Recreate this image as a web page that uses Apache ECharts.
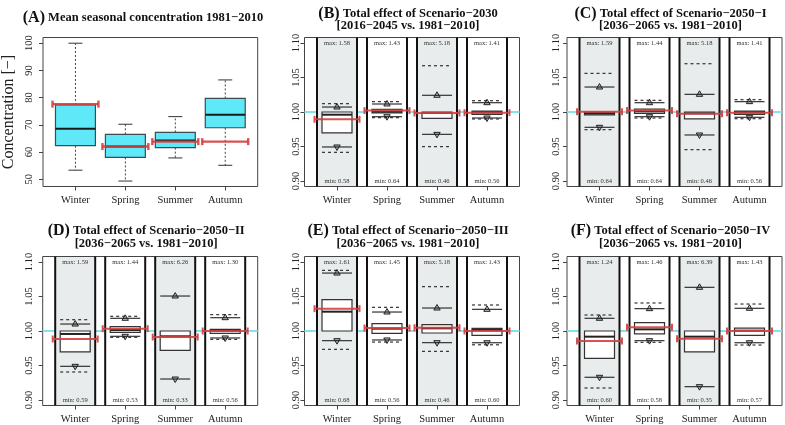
<!DOCTYPE html>
<html><head><meta charset="utf-8">
<script src="https://cdn.jsdelivr.net/npm/echarts@6/dist/echarts.min.js"></script>
<style>html,body{margin:0;padding:0;background:#fff}#c{width:785px;height:425px}</style>
</head><body><div id="c"></div>
<script>
// ---------- data ----------
const seasons = ['Winter', 'Spring', 'Summer', 'Autumn'];
const shaded = [1, 0, 1, 0];
const yTicksA = [50, 60, 70, 80, 90, 100];
const yTicksRatio = [0.90, 0.95, 1.00, 1.05, 1.10];

// Panel A: mean seasonal concentration
const aLow  = [53.3, 49.3, 57.8, 55.1];
const aQ1   = [62.3, 58.0, 61.6, 68.9];
const aMed  = [68.5, 62.0, 64.2, 73.7];
const aQ3   = [77.3, 66.5, 67.2, 79.7];
const aHigh = [100.0, 70.2, 73.0, 86.5];
const aRef  = [77.6, 62.0, 63.8, 63.8];

// Panels B–F: ratios (rows = panel, columns = season)
const panelIds = ['B', 'C', 'D', 'E', 'F'];
const panelTitles = ['Total effect of Scenario−2030', 'Total effect of Scenario−2050−I',
  'Total effect of Scenario−2050−II', 'Total effect of Scenario−2050−III', 'Total effect of Scenario−2050−IV'];
const panelPeriods = ['[2016−2045 vs. 1981−2010]', '[2036−2065 vs. 1981−2010]', '[2036−2065 vs. 1981−2010]',
  '[2036−2065 vs. 1981−2010]', '[2036−2065 vs. 1981−2010]'];
const dashHi = [
  [1.0121, 1.0150, 1.0671, 1.0164],
  [1.0560, 1.0169, 1.0700, 1.0179],
  [1.0164, 1.0213, null,   1.0237],
  [1.0879, 1.0343, 1.0643, 1.0377],
  [1.0232, 1.0406, null,   1.0391]];
const solidHi = [
  [1.0072, 1.0116, 1.0242, 1.0135],
  [1.0362, 1.0135, 1.0256, 1.0150],
  [1.0101, 1.0184, 1.0507, 1.0193],
  [1.0840, 1.0275, 1.0333, 1.0314],
  [1.0184, 1.0324, 1.0633, 1.0329]];
const boxQ3 = [
  [1.0000, 1.0039, 1.0000, 1.0014],
  [1.0000, 1.0043, 1.0000, 1.0014],
  [1.0000, 1.0063, 1.0000, 1.0024],
  [1.0454, 1.0106, 1.0092, 1.0039],
  [1.0000, 1.0121, 1.0000, 1.0043]];
const boxMed = [
  [0.9961, 1.0005, 0.9986, 0.9995],
  [0.9980, 1.0010, 0.9980, 0.9995],
  [0.9957, 1.0015, 0.9923, 1.0005],
  [1.0280, 1.0034, 1.0039, 1.0014],
  [0.9918, 1.0024, 0.9918, 1.0005]];
const boxQ1 = [
  [0.9696, 0.9986, 0.9908, 0.9966],
  [0.9957, 0.9980, 0.9900, 0.9966],
  [0.9696, 0.9980, 0.9720, 0.9966],
  [1.0000, 0.9966, 0.9971, 0.9937],
  [0.9604, 0.9957, 0.9696, 0.9937]];
const solidLo = [
  [0.9493, 0.9932, 0.9676, 0.9913],
  [0.9778, 0.9932, 0.9667, 0.9923],
  [0.9488, 0.9923, 0.9304, 0.9899],
  [0.9860, 0.9870, 0.9831, 0.9830],
  [0.9329, 0.9860, 0.9193, 0.9830]];
const dashLo = [
  [0.9415, 0.9918, 0.9498, 0.9899],
  [0.9744, 0.9913, 0.9454, 0.9903],
  [0.9406, 0.9908, null,   0.9879],
  [0.9734, 0.9840, 0.9705, 0.9800],
  [0.9174, 0.9836, null,   0.9797]];
const refLine = [
  [0.9894, 1.0020, 0.9986, 0.9990],
  [1.0005, 1.0020, 0.9976, 0.9990],
  [0.9884, 1.0034, 0.9913, 1.0000],
  [1.0324, 1.0043, 1.0048, 1.0000],
  [0.9855, 1.0053, 0.9889, 1.0000]];
const maxLabels = [
  ['1.58', '1.43', '5.18', '1.41'],
  ['1.59', '1.44', '5.18', '1.41'],
  ['1.59', '1.44', '6.26', '1.30'],
  ['1.61', '1.45', '5.18', '1.43'],
  ['1.24', '1.46', '6.39', '1.43']];
const minLabels = [
  ['0.58', '0.64', '0.46', '0.56'],
  ['0.64', '0.64', '0.46', '0.56'],
  ['0.59', '0.53', '0.33', '0.56'],
  ['0.68', '0.56', '0.46', '0.60'],
  ['0.60', '0.58', '0.35', '0.57']];
const baseline = 1.0;

// ---------- styling / layout ----------
const serif = '"Liberation Serif", "Times New Roman", serif';
const colL = [42.7, 304.5, 567];
const gridW = 215, gridH = 149;
const rowT = [37.5, 256.5];
const labelMargins = [8, 3, 5];
const RED = 'rgba(214,62,62,0.9)';
const CYAN = '#80e4f0';
const GREY = '#e8ecec';

function seg(api, xa, xb, y, style) {
  const a = api.coord([xa, y]), b = api.coord([xb, y]);
  return { type: 'line', shape: { x1: a[0], y1: a[1], x2: b[0], y2: b[1] }, style: style };
}
function errBar(api, x, y, half, lw) {
  const l = api.coord([x - half, y]), r = api.coord([x + half, y]);
  const st = { stroke: RED, lineWidth: lw };
  return [
    { type: 'line', shape: { x1: l[0], y1: l[1], x2: r[0], y2: r[1] }, style: st },
    { type: 'line', shape: { x1: l[0], y1: l[1] - 3.5, x2: l[0], y2: l[1] + 3.5 }, style: st },
    { type: 'line', shape: { x1: r[0], y1: r[1] - 3.5, x2: r[0], y2: r[1] + 3.5 }, style: st }
  ];
}

function renderA(params, api) {
  const x = api.value(0);
  const lo = api.value(1), q1 = api.value(2), md = api.value(3), q3 = api.value(4), hi = api.value(5), rf = api.value(6);
  const ch = [];
  const c = (xx, yy) => api.coord([xx, yy]);
  const wStyle = { stroke: '#444', lineWidth: 1, lineDash: [2, 2] };
  let p1 = c(x, q3), p2 = c(x, hi);
  ch.push({ type: 'line', shape: { x1: p1[0], y1: p1[1], x2: p2[0], y2: p2[1] }, style: wStyle });
  p1 = c(x, q1); p2 = c(x, lo);
  ch.push({ type: 'line', shape: { x1: p1[0], y1: p1[1], x2: p2[0], y2: p2[1] }, style: wStyle });
  ch.push(seg(api, x - 0.14, x + 0.14, hi, { stroke: '#333', lineWidth: 1 }));
  ch.push(seg(api, x - 0.14, x + 0.14, lo, { stroke: '#333', lineWidth: 1 }));
  const tl = c(x - 0.4, q3), br = c(x + 0.4, q1);
  ch.push({ type: 'rect', shape: { x: tl[0], y: tl[1], width: br[0] - tl[0], height: br[1] - tl[1] },
    style: { fill: '#5fe9f8', stroke: '#3d4c50', lineWidth: 1.2 } });
  ch.push(seg(api, x - 0.4, x + 0.4, md, { stroke: '#1a1a1a', lineWidth: 2 }));
  errBar(api, x, rf, 0.46, 2.4).forEach(e => ch.push(e));
  return { type: 'group', children: ch };
}

function renderCyan(params, api) {
  const cs = params.coordSys;
  const y = api.coord([1, api.value(0)])[1];
  return { type: 'line', shape: { x1: cs.x, y1: y, x2: cs.x + cs.width, y2: y }, style: { stroke: CYAN, lineWidth: 2 } };
}

function renderBg(params, api) {
  const x = api.value(0), sh = api.value(1);
  const cs = params.coordSys;
  const xl = api.coord([x - 0.4, 1])[0], xr = api.coord([x + 0.4, 1])[0];
  const ls = { stroke: '#111', lineWidth: 2 };
  return { type: 'group', children: [
    { type: 'rect', shape: { x: xl, y: cs.y + 0.5, width: xr - xl, height: cs.height - 1 }, style: { fill: sh ? GREY : '#fff' } },
    { type: 'line', shape: { x1: xl, y1: cs.y, x2: xl, y2: cs.y + cs.height }, style: ls },
    { type: 'line', shape: { x1: xr, y1: cs.y, x2: xr, y2: cs.y + cs.height }, style: ls }
  ] };
}

function renderStats(params, api) {
  const x = api.value(0);
  const v = [1, 2, 3, 4, 5, 6, 7, 8].map(k => api.value(k));
  const dh = v[0], sh = v[1], q3 = v[2], md = v[3], q1 = v[4], sl = v[5], dl = v[6], rf = v[7];
  const bw = 0.3;
  const ch = [];
  const dash = { stroke: '#333', lineWidth: 1.2, lineDash: [3, 3] };
  const solid = { stroke: '#333', lineWidth: 1.2 };
  if (isFinite(dh)) ch.push(seg(api, x - bw, x + bw, dh, dash));
  if (isFinite(dl)) ch.push(seg(api, x - bw, x + bw, dl, dash));
  ch.push(seg(api, x - bw, x + bw, sh, solid));
  ch.push(seg(api, x - bw, x + bw, sl, solid));
  const pu = api.coord([x, sh]), pd = api.coord([x, sl]);
  const tri = { fill: 'rgba(0,0,0,0.22)', stroke: '#222', lineWidth: 1 };
  ch.push({ type: 'polygon', shape: { points: [[pu[0] - 3.2, pu[1] + 2], [pu[0] + 3.2, pu[1] + 2], [pu[0], pu[1] - 3.5]] }, style: tri });
  ch.push({ type: 'polygon', shape: { points: [[pd[0] - 3.2, pd[1] - 2], [pd[0] + 3.2, pd[1] - 2], [pd[0], pd[1] + 3.5]] }, style: tri });
  const tl = api.coord([x - bw, q3]), br = api.coord([x + bw, q1]);
  ch.push({ type: 'rect', shape: { x: tl[0], y: tl[1], width: br[0] - tl[0], height: br[1] - tl[1] },
    style: { fill: '#fff', stroke: '#333', lineWidth: 1.2 } });
  ch.push(seg(api, x - bw, x + bw, md, { stroke: '#222', lineWidth: 2 }));
  errBar(api, x, rf, 0.45, 2).forEach(e => ch.push(e));
  return { type: 'group', children: ch };
}

function makeTextRenderer(pi) {
  return function (params, api) {
    const x = api.value(0), i = params.dataIndex;
    const top = api.coord([x, 1.10]), bot = api.coord([x, 0.90]);
    const st = { textAlign: 'center', textVerticalAlign: 'middle', fontFamily: serif, fontSize: 6.5, fill: '#333' };
    return { type: 'group', children: [
      { type: 'text', style: Object.assign({ text: 'max: ' + maxLabels[pi][i], x: top[0], y: top[1] }, st) },
      { type: 'text', style: Object.assign({ text: 'min: ' + minLabels[pi][i], x: bot[0], y: bot[1] }, st) }
    ] };
  };
}

// ---------- build option ----------
const layout = [[0, 0], [1, 0], [2, 0], [0, 1], [1, 1], [2, 1]];
const grids = [], xAxes = [], yAxes = [], series = [], graphics = [];
const axisFont = { fontFamily: serif, fontSize: 10.5, color: '#222' };

layout.forEach(function (cr, gi) {
  const c = cr[0], r = cr[1];
  grids.push({ left: colL[c], top: rowT[r], width: gridW, height: gridH, show: true,
    borderColor: '#444', borderWidth: 1, backgroundColor: 'transparent' });
  xAxes.push({ gridIndex: gi, type: 'value', min: 0.35, max: 4.65,
    axisLine: { show: false, onZero: false }, splitLine: { show: false },
    axisTick: { show: true, customValues: [1, 2, 3, 4], length: 4, lineStyle: { color: '#444' } },
    axisLabel: Object.assign({ customValues: [1, 2, 3, 4], formatter: v => seasons[Math.round(v) - 1], margin: 8 }, axisFont) });
  const isA = gi === 0;
  const ticks = isA ? yTicksA : yTicksRatio;
  const y = { gridIndex: gi, type: 'value', min: isA ? 47.3 : 0.892, max: isA ? 102.1 : 1.108,
    axisLine: { show: false, onZero: false }, splitLine: { show: false },
    axisTick: { show: true, customValues: ticks, length: 4, lineStyle: { color: '#444' } },
    axisLabel: Object.assign({ customValues: ticks, rotate: 90, margin: labelMargins[c],
      formatter: v => isA ? String(Math.round(v)) : Number(v).toFixed(2) }, axisFont) };
  if (isA) {
    Object.assign(y, { name: 'Concentration [−]', nameLocation: 'middle', nameRotate: 90, nameGap: 26,
      nameTextStyle: { fontFamily: serif, fontSize: 16, color: '#222' } });
  }
  yAxes.push(y);
});

// Panel A series
series.push({ type: 'custom', xAxisIndex: 0, yAxisIndex: 0, z: 3, renderItem: renderA, silent: true,
  encode: { x: 0, y: 3 },
  data: seasons.map((s, i) => [i + 1, aLow[i], aQ1[i], aMed[i], aQ3[i], aHigh[i], aRef[i]]) });

// Panels B-F
panelIds.forEach(function (id, pi) {
  const gi = pi + 1;
  series.push({ type: 'custom', xAxisIndex: gi, yAxisIndex: gi, z: 1, silent: true, renderItem: renderCyan,
    encode: { y: 0 }, data: [[baseline]] });
  series.push({ type: 'custom', xAxisIndex: gi, yAxisIndex: gi, z: 2, silent: true, renderItem: renderBg,
    encode: { x: 0 }, data: seasons.map((s, i) => [i + 1, shaded[i]]) });
  series.push({ type: 'custom', xAxisIndex: gi, yAxisIndex: gi, z: 3, silent: true, renderItem: renderStats,
    encode: { x: 0, y: 4 },
    data: seasons.map((s, i) => [i + 1, dashHi[pi][i], solidHi[pi][i], boxQ3[pi][i], boxMed[pi][i], boxQ1[pi][i],
      solidLo[pi][i], dashLo[pi][i], refLine[pi][i]]) });
  series.push({ type: 'custom', xAxisIndex: gi, yAxisIndex: gi, z: 4, silent: true, renderItem: makeTextRenderer(pi),
    encode: { x: 0 }, data: seasons.map((s, i) => [i + 1]) });
});

// Titles
function titleText(x, y, label, text) {
  return { type: 'text', x: x, y: y, silent: true, style: {
    text: '{p|(' + label + ')} {t|' + text + '}', textAlign: 'center', textVerticalAlign: 'middle',
    fontFamily: serif, fontWeight: 'bold', fontSize: 12.5, fill: '#111',
    rich: { p: { fontFamily: serif, fontWeight: 'bold', fontSize: 16, fill: '#111' },
            t: { fontFamily: serif, fontWeight: 'bold', fontSize: 12.5, fill: '#111' } } } };
}
function plainText(x, y, text) {
  return { type: 'text', x: x, y: y, silent: true, style: { text: text, textAlign: 'center', textVerticalAlign: 'middle',
    fontFamily: serif, fontWeight: 'bold', fontSize: 12.5, fill: '#111' } };
}
graphics.push(titleText(143, 17.5, 'A', 'Mean seasonal concentration 1981−2010'));
panelIds.forEach(function (id, pi) {
  const cr = layout[pi + 1];
  const cx = colL[cr[0]] + gridW / 2 - 4;
  const y1 = cr[1] === 0 ? 13.5 : 231;
  const y2 = cr[1] === 0 ? 26 : 244;
  graphics.push(titleText(cx, y1, id, panelTitles[pi]));
  graphics.push(plainText(cx, y2, panelPeriods[pi]));
});

const option = {
  animation: false,
  backgroundColor: '#fff',
  grid: grids, xAxis: xAxes, yAxis: yAxes, series: series,
  graphic: { elements: graphics }
};
const chart = echarts.init(document.getElementById('c'), null, { renderer: 'canvas' });
chart.setOption(option);
</script></body></html>
